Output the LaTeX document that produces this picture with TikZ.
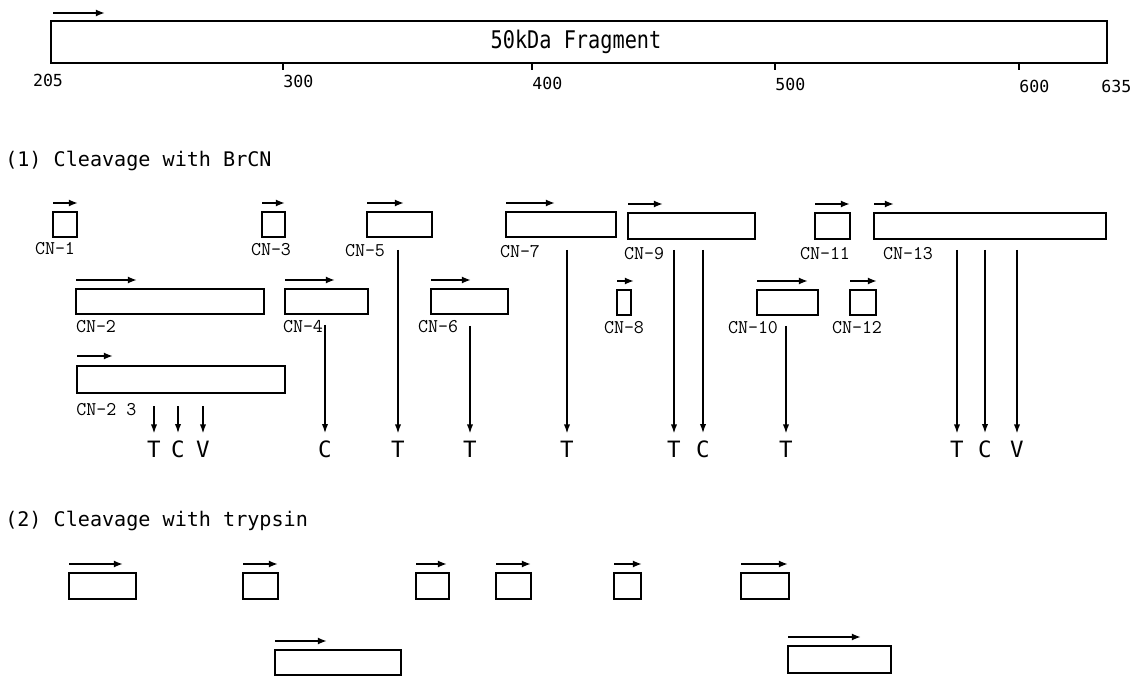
\documentclass[tikz,border=0pt]{standalone}
\usepackage{fontspec}
\usepackage{graphicx}
\usetikzlibrary{arrows.meta,fit}
\newfontfamily\labfont{DejaVu Sans Mono}

\tikzset{
  seg/.style={draw, line width=1.3pt, inner sep=0pt, outer sep=0pt},
  dir/.style={-{Latex[length=6.5pt,width=5pt]}, line width=1.3pt},
  cut/.style={-{Latex[length=6.5pt,width=4.5pt]}, line width=1pt, shorten >=5pt},
  head/.style={font=\labfont\fontsize{14.3}{16}\selectfont, inner sep=0pt, anchor=west},
  ticklab/.style={font=\labfont\fontsize{11.8}{13}\selectfont, inner sep=0pt},
  cnlab/.style={font=\ttfamily\fontsize{13.8}{15}\selectfont, inner sep=0pt},
  site/.style={font=\labfont\fontsize{16}{18}\selectfont, inner sep=0pt},
}

\begin{document}
\begin{tikzpicture}[x=0.025cm, y=-0.025cm]
    \useasboundingbox (0,0) rectangle (1140,676);

    % 50kDa fragment with scale
    \node[seg, fit={(51,21) (1107,63)}] (frag) {};
    \node[font=\labfont\fontsize{14.4}{16}\selectfont, inner sep=0pt] (fragtext) at (576,42) {\scalebox{1}[1.2]{50kDa Fragment}};
    \draw[dir] (53,13) -- (105,13);
    \node[ticklab] (n205) at (48,80) {205};
    \foreach \x/\y/\lab in {283/81/300, 532/83/400, 775/84/500, 1019/86/600} {
        \draw[line width=1.2pt] (\x,63) -- (\x,70);
        \node[ticklab, anchor=west] (n\lab) at (\x,\y) {\lab};
    }
    \node[ticklab, anchor=west] (n635) at (1101,86) {635};

    % (1) BrCN fragments
    \node[head] (brcn) at (5,161) {(1) Cleavage with BrCN};
    \foreach \nm/\xa/\xb/\xe/\ya/\yb/\lx/\ly in {
        1/53/77/78/212/237/55/249, 3/262/285/285/212/237/271/250,
        5/367/432/404/212/237/365/251, 7/506/616/555/212/237/520/252,
        9/628/755/663/213/239/644/254, 11/815/850/850/213/239/825/254,
        13/874/1106/894/213/239/908/254,
        2/76/264/137/289/314/96/327, 4/285/368/335/289/314/303/327,
        6/431/508/471/289/314/438/327, 8/617/631/634/290/315/624/328,
        10/757/818/808/290/315/753/328, 12/850/876/877/290/315/857/328} {
        \node[seg, fit={(\xa,\ya) (\xb,\yb)}] (cn\nm) {};
        \draw[dir] (\xa,\ya-9) -- (\xe,\ya-9);
        \node[cnlab] (lab\nm) at (\lx,\ly) {CN-\nm};
    }
    \node[seg, fit={(77,366) (285,393)}] (cn23) {};
    \draw[dir] (77,356) -- (113,356);
    \node[cnlab, anchor=west] (lab23) at (76,410) {CN-2~3};

    % cleavage sites
    \foreach \s/\x/\ya/\lt in {a/154/406/T, b/178/406/C, c/203/406/V, d/325/325/C,
        e/398/250/T, f/470/326/T, g/567/250/T, h/674/250/T, i/703/250/C,
        j/786/326/T, k/957/250/T, l/985/250/C, m/1017/250/V} {
        \node[site] (s\s) at (\x,449) {\lt};
        \coordinate (c\s) at (\x,\ya);
        \draw[cut] (c\s) -- (s\s);
    }

    % (2) trypsin fragments
    \node[head] (tryp) at (5,521) {(2) Cleavage with trypsin};
    \foreach \nm/\xa/\xb/\xe/\ya/\yb in {1/69/136/123/573/599, 2/243/278/278/573/599,
        3/416/449/447/573/599, 4/496/531/531/573/599, 5/614/641/642/573/599,
        6/741/789/788/573/599, 7/275/401/327/650/675, 8/788/891/861/646/673} {
        \node[seg, fit={(\xa,\ya) (\xb,\yb)}] (tr\nm) {};
        \draw[dir] (\xa,\ya-9) -- (\xe,\ya-9);
    }
\end{tikzpicture}
\end{document}
